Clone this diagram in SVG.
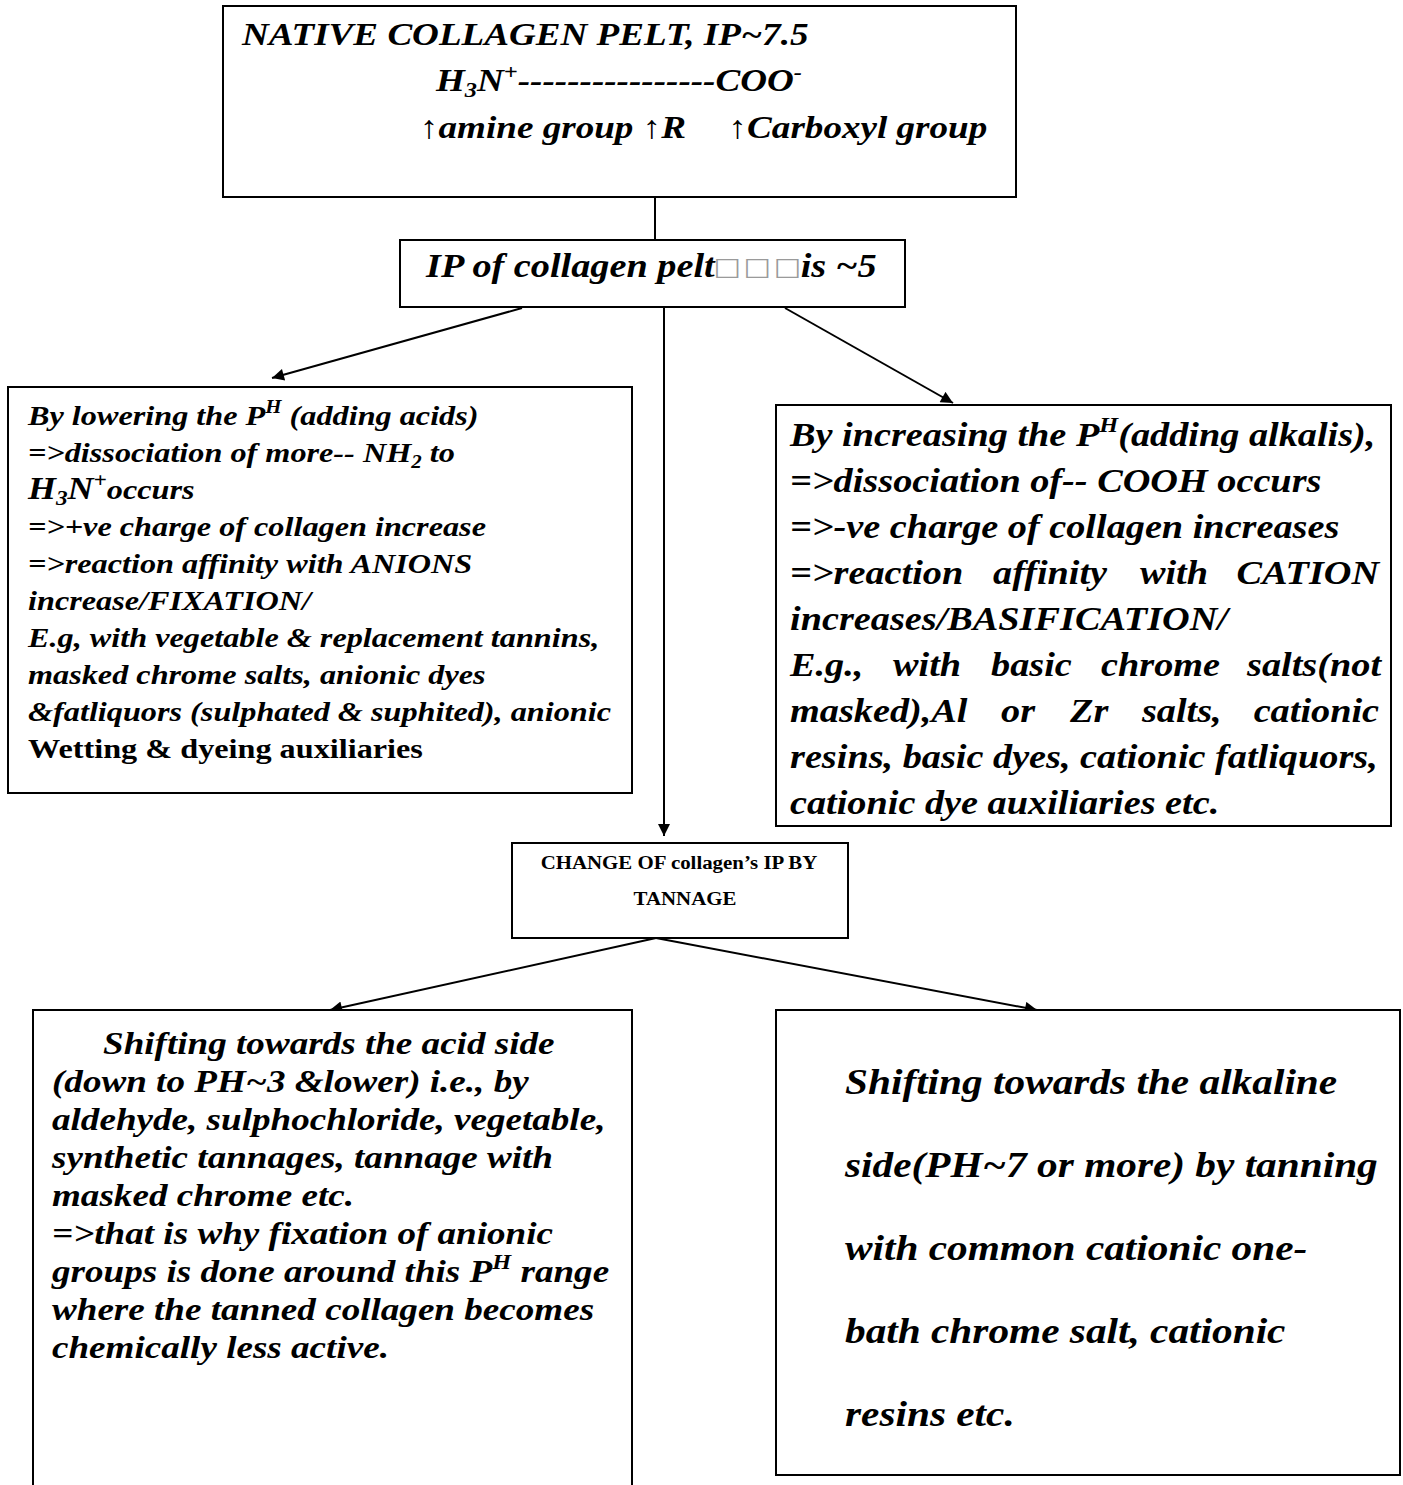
<svg xmlns="http://www.w3.org/2000/svg" width="1403" height="1485" viewBox="0 0 1403 1485">
<style>
.box{fill:#fff;stroke:#000;stroke-width:2}
.t{font-family:"Liberation Serif","Times New Roman",serif;font-weight:bold;font-style:italic;fill:#000}
.n{font-style:normal}
.conn line{stroke:#000;stroke-width:2}
.sq{font-family:"DejaVu Sans",sans-serif;font-style:normal;font-weight:normal;fill:#9a9a9a}
</style>
<defs>
<marker id="ah" viewBox="0 0 10 10" refX="10" refY="5" markerWidth="7" markerHeight="6" orient="auto" markerUnits="strokeWidth">
<path d="M0,0 L10,5 L0,10 z" fill="#000"/>
</marker>
</defs>
<g class="conn" id="connectors">
<line x1="655" y1="197" x2="655" y2="240"/>
<line x1="522" y1="308" x2="272" y2="378" marker-end="url(#ah)"/>
<line x1="664" y1="308" x2="664" y2="836" marker-end="url(#ah)"/>
<line x1="785" y1="308" x2="953" y2="403" marker-end="url(#ah)"/>
<line x1="656" y1="938" x2="330" y2="1010" marker-end="url(#ah)"/>
<line x1="656" y1="938" x2="1037" y2="1010" marker-end="url(#ah)"/>
</g>
<g id="native">
<rect class="box" x="223" y="6" width="793" height="191"/>
<g class="t" font-size="32">
<text transform="translate(242,45) scale(1.16,1)">NATIVE COLLAGEN PELT, IP~7.5</text>
<text transform="translate(436,91) scale(1.16,1)">H<tspan font-size="21" dy="6">3</tspan><tspan dy="-6">N</tspan><tspan font-size="21" dy="-12">+</tspan><tspan dy="12">----------------COO</tspan><tspan font-size="21" dy="-12">-</tspan></text>
<text transform="translate(420,138) scale(1.16,1)"><tspan class="n">↑</tspan>amine group <tspan class="n">↑</tspan>R<tspan x="266" class="n">↑</tspan>Carboxyl group</text>
</g>
</g>
<g id="ip">
<rect class="box" x="400" y="240" width="505" height="67"/>
<g class="t" font-size="33">
<text transform="translate(426,277) scale(1.16,1)">IP of collagen pelt<tspan class="sq" font-size="25" x="248" dy="-2">□</tspan><tspan class="sq" font-size="25" x="274">□</tspan><tspan class="sq" font-size="25" x="300">□</tspan><tspan x="323" dy="2">is ~5</tspan></text>
</g>
</g>
<g id="lowering">
<rect class="box" x="8" y="387" width="624" height="406"/>
<g class="t" font-size="27.8">
<text transform="translate(28,425) scale(1.16,1)">By lowering the P<tspan font-size="18" dy="-12">H</tspan><tspan dy="12"> (adding acids)</tspan></text>
<text transform="translate(28,462) scale(1.16,1)">=&gt;dissociation of more-- NH<tspan font-size="18" dy="6">2</tspan><tspan dy="-6"> to</tspan></text>
<text transform="translate(28,499) scale(1.16,1)"><tspan font-size="31">H</tspan><tspan font-size="20" dy="6">3</tspan><tspan font-size="31" dy="-6">N</tspan><tspan font-size="20" dy="-12">+</tspan><tspan dy="12">occurs</tspan></text>
<text transform="translate(28,536) scale(1.16,1)">=&gt;+ve charge of collagen increase</text>
<text transform="translate(28,573) scale(1.16,1)">=&gt;reaction affinity with ANIONS</text>
<text transform="translate(28,610) scale(1.16,1)">increase/FIXATION/</text>
<text transform="translate(28,647) scale(1.16,1)">E.g, with vegetable &amp; replacement tannins,</text>
<text transform="translate(28,684) scale(1.16,1)">masked chrome salts, anionic dyes</text>
<text transform="translate(28,721) scale(1.16,1)">&amp;fatliquors (sulphated &amp; suphited), anionic</text>
<text transform="translate(28,758) scale(1.16,1)" class="n">Wetting &amp; dyeing auxiliaries</text>
</g>
</g>
<g id="increasing">
<rect class="box" x="776" y="405" width="615" height="421"/>
<g class="t" font-size="33">
<text transform="translate(790,446) scale(1.16,1)">By increasing the P<tspan font-size="21" dy="-14">H</tspan><tspan dy="14">(adding alkalis),</tspan></text>
<text transform="translate(790,492) scale(1.16,1)">=&gt;dissociation of-- COOH occurs</text>
<text transform="translate(790,538) scale(1.16,1)">=&gt;-ve charge of collagen increases</text>
<text transform="translate(790,584) scale(1.16,1)"><tspan x="0">=&gt;reaction</tspan><tspan x="175">affinity</tspan><tspan x="301.7">with</tspan><tspan x="507.8" text-anchor="end">CATION</tspan></text>
<text transform="translate(790,630) scale(1.16,1)">increases/BASIFICATION/</text>
<text transform="translate(790,676) scale(1.16,1)"><tspan x="0">E.g.,</tspan><tspan x="88.8">with</tspan><tspan x="173.3">basic</tspan><tspan x="268.1">chrome</tspan><tspan x="509.5" text-anchor="end">salts(not</tspan></text>
<text transform="translate(790,722) scale(1.16,1)"><tspan x="0">masked),Al</tspan><tspan x="181.9">or</tspan><tspan x="241.4">Zr</tspan><tspan x="303.4">salts,</tspan><tspan x="507.8" text-anchor="end">cationic</tspan></text>
<text transform="translate(790,768) scale(1.16,1)">resins, basic dyes, cationic fatliquors,</text>
<text transform="translate(790,814) scale(1.16,1)">cationic dye auxiliaries etc.</text>
</g>
</g>
<g id="change">
<rect class="box" x="512" y="843" width="336" height="95"/>
<g class="t n" font-size="18">
<text transform="translate(679,869) scale(1.16,1)" text-anchor="middle">CHANGE OF collagen’s IP BY</text>
<text transform="translate(685,905) scale(1.16,1)" text-anchor="middle">TANNAGE</text>
</g>
</g>
<g id="acid">
<path class="box" d="M33,1486 V1010 H632 V1486"/>
<g class="t" font-size="32">
<text transform="translate(103,1054) scale(1.16,1)">Shifting towards the acid side</text>
<text transform="translate(52,1092) scale(1.16,1)">(down to PH~3 &amp;lower) i.e., by</text>
<text transform="translate(52,1130) scale(1.16,1)">aldehyde, sulphochloride, vegetable,</text>
<text transform="translate(52,1168) scale(1.16,1)">synthetic tannages, tannage with</text>
<text transform="translate(52,1206) scale(1.16,1)">masked chrome etc.</text>
<text transform="translate(52,1244) scale(1.16,1)">=&gt;that is why fixation of anionic</text>
<text transform="translate(52,1282) scale(1.16,1)">groups is done around this P<tspan font-size="21" dy="-13">H</tspan><tspan dy="13"> range</tspan></text>
<text transform="translate(52,1320) scale(1.16,1)">where the tanned collagen becomes</text>
<text transform="translate(52,1358) scale(1.16,1)">chemically less active.</text>
</g>
</g>
<g id="alkaline">
<rect class="box" x="776" y="1010" width="624" height="465"/>
<g class="t" font-size="35.6">
<text transform="translate(845,1094) scale(1.16,1)">Shifting towards the alkaline</text>
<text transform="translate(845,1177) scale(1.16,1)">side(PH~7 or more) by tanning</text>
<text transform="translate(845,1260) scale(1.16,1)">with common cationic one-</text>
<text transform="translate(845,1343) scale(1.16,1)">bath chrome salt, cationic</text>
<text transform="translate(845,1426) scale(1.16,1)">resins etc.</text>
</g>
</g>
</svg>
